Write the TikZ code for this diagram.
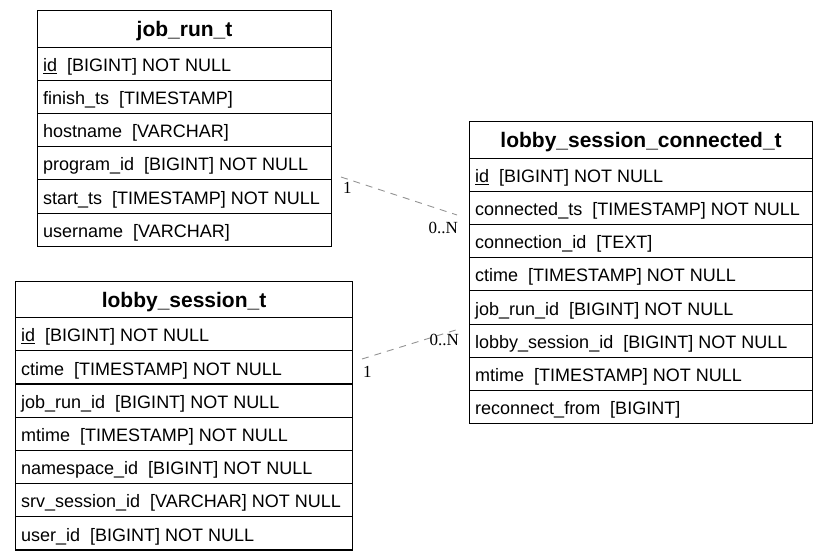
\documentclass[tikz,border=0pt]{standalone}
\usepackage{fontspec}
\setmainfont{Liberation Sans}
\newfontfamily\lblfont{Liberation Serif}
\newcommand{\dbhead}[5]{% name, x, y, width, title
  \node[headbox, minimum width=#4, anchor=north west] (#1) at (#2,#3) {};
  \node[headtext, anchor=base] (#1t) at ([yshift=10.8pt]#1.south) {#5};
}
\newcommand{\dbrow}[5]{% name, x, y, width, text
  \node[rowbox, minimum width=#4, anchor=north west] (#1) at (#2,#3) {};
  \node[rowtext, anchor=base west] (#1t) at ([xshift=6pt,yshift=9.5pt]#1.south west) {#5};
}
\begin{document}
\begin{tikzpicture}[x=1pt,y=-1pt,
  headbox/.style={draw=black, line width=1.1pt, fill=white, inner sep=0pt, minimum height=36.5pt},
  rowbox/.style={draw=black, line width=1.1pt, fill=white, inner sep=0pt, minimum height=33.2pt},
  headtext/.style={inner sep=0pt, font=\fontsize{21}{24}\selectfont\bfseries},
  rowtext/.style={inner sep=0pt, font=\fontsize{18}{21}\selectfont},
  rel/.style={draw=gray!85, line width=0.9pt, dash pattern=on 7pt off 6pt},
  card/.style={inner sep=0pt, font=\lblfont\fontsize{17}{20}\selectfont}]
\useasboundingbox (0,0) rectangle (828,560);
% job_run_t
\dbhead{jh}{37}{10}{294}{job\_run\_t}
\dbrow{j1}{37}{46.5}{294}{\underline{id}\ \ [BIGINT] NOT NULL}
\dbrow{j2}{37}{79.7}{294}{finish\_ts\ \ [TIMESTAMP]}
\dbrow{j3}{37}{112.9}{294}{hostname\ \ [VARCHAR]}
\dbrow{j4}{37}{146.1}{294}{program\_id\ \ [BIGINT] NOT NULL}
\dbrow{j5}{37}{179.3}{294}{start\_ts\ \ [TIMESTAMP] NOT NULL}
\dbrow{j6}{37}{212.5}{294}{username\ \ [VARCHAR]}
% lobby_session_connected_t
\dbhead{ch}{469}{121}{343}{lobby\_session\_connected\_t}
\dbrow{c1}{469}{157.5}{343}{\underline{id}\ \ [BIGINT] NOT NULL}
\dbrow{c2}{469}{190.7}{343}{connected\_ts\ \ [TIMESTAMP] NOT NULL}
\dbrow{c3}{469}{223.9}{343}{connection\_id\ \ [TEXT]}
\dbrow{c4}{469}{257.1}{343}{ctime\ \ [TIMESTAMP] NOT NULL}
\dbrow{c5}{469}{290.3}{343}{job\_run\_id\ \ [BIGINT] NOT NULL}
\dbrow{c6}{469}{323.5}{343}{lobby\_session\_id\ \ [BIGINT] NOT NULL}
\dbrow{c7}{469}{356.7}{343}{mtime\ \ [TIMESTAMP] NOT NULL}
\dbrow{c8}{469}{389.9}{343}{reconnect\_from\ \ [BIGINT]}
% lobby_session_t
\dbhead{lh}{15}{281}{337}{lobby\_session\_t}
\dbrow{l1}{15}{317}{337}{\underline{id}\ \ [BIGINT] NOT NULL}
\dbrow{l2}{15}{350.2}{337}{ctime\ \ [TIMESTAMP] NOT NULL}
\dbrow{l3}{15}{383.4}{337}{job\_run\_id\ \ [BIGINT] NOT NULL}
\dbrow{l4}{15}{416.6}{337}{mtime\ \ [TIMESTAMP] NOT NULL}
\dbrow{l5}{15}{449.8}{337}{namespace\_id\ \ [BIGINT] NOT NULL}
\dbrow{l6}{15}{483}{337}{srv\_session\_id\ \ [VARCHAR] NOT NULL}
\dbrow{l7}{15}{516.2}{337}{user\_id\ \ [BIGINT] NOT NULL}
% relationships
\coordinate (r1a) at (341,177);
\coordinate (r1b) at (457,215);
\draw[rel] (r1a) -- (r1b);
\node[card, anchor=base west] (r1s) at (343,193) {1};
\node[card, anchor=base east] (r1e) at (458,233) {0..N};
\coordinate (r2a) at (362,359);
\coordinate (r2b) at (459,329);
\draw[rel] (r2a) -- (r2b);
\node[card, anchor=base east] (r2e) at (459,345) {0..N};
\node[card, anchor=base west] (r2s) at (363,377) {1};
\end{tikzpicture}
\end{document}
